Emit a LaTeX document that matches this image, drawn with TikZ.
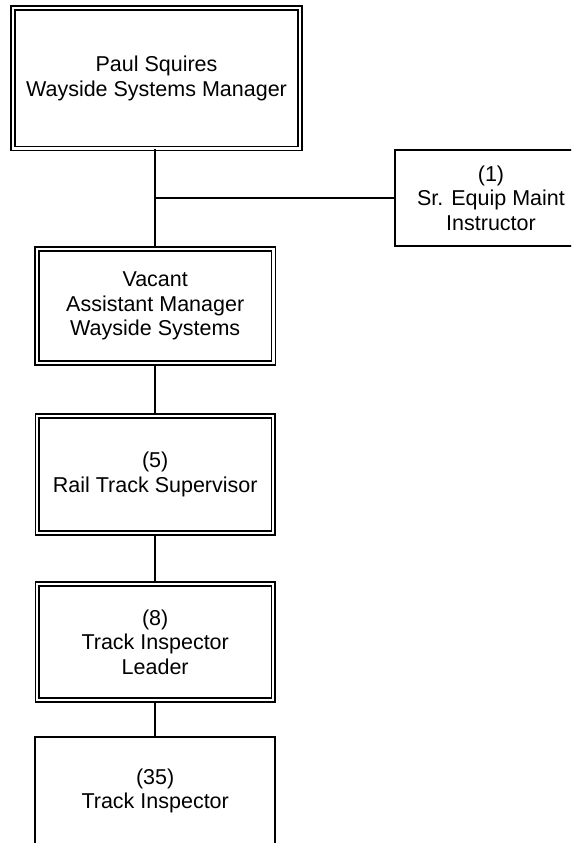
\documentclass[tikz,border=0pt]{standalone}
\usepackage{fontspec}
\setmainfont{Liberation Sans}
\begin{document}
\begin{tikzpicture}[x=1pt,y=-1pt,
  lbl/.style={align=center,inner sep=0pt,font=\fontsize{21.5}{24.5}\selectfont},
  dbox/.style={lbl,draw,double,double distance=2.4pt,line width=1.5pt},
  sbox/.style={lbl,draw,line width=2pt},
  conn/.style={line width=2pt}]
\useasboundingbox (0,0) rectangle (571,843);
\clip (0,0) rectangle (571,843);
\fill[white] (0,0) rectangle (571,843);
\node[dbox,minimum width=287pt,minimum height=140.5pt] (mgr) at (156.5,78.2) {Paul Squires\\Wayside Systems Manager};
\node[sbox,minimum width=192pt,minimum height=96pt] (instr) at (491,198) {(1)\\Sr. Equip Maint\\Instructor};
\node[dbox,minimum width=236.5pt,minimum height=114pt] (asst) at (155.2,306) {Vacant\\Assistant Manager\\Wayside Systems};
\node[dbox,minimum width=236pt,minimum height=117pt] (sup) at (155.2,474.5) {(5)\\Rail Track Supervisor};
\node[dbox,minimum width=236pt,minimum height=116pt] (lead) at (155.2,642) {(8)\\Track Inspector\\Leader};
\node[sbox,minimum width=240pt,minimum height=108pt] (insp) at (155.2,791) {(35)\\Track Inspector};
\coordinate (j) at (asst.north |- instr.west);
\draw[conn] (asst.north) -- (asst.north |- mgr.south);
\draw[conn] (j) -- (instr.west);
\draw[conn] (sup.north) -- (asst.south);
\draw[conn] (lead.north) -- (sup.south);
\draw[conn] (insp.north) -- (lead.south);
\end{tikzpicture}
\end{document}
